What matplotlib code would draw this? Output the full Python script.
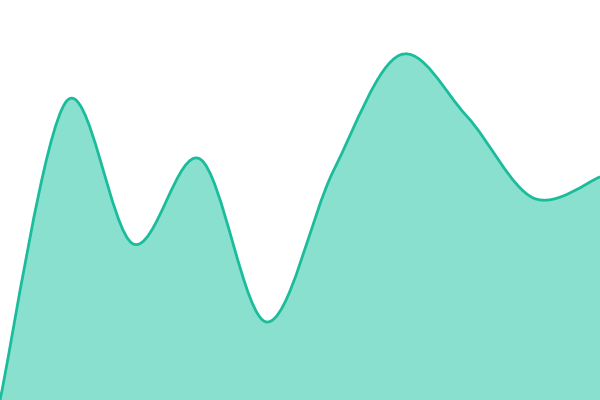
import matplotlib
matplotlib.use("Agg")
import matplotlib.pyplot as plt
from matplotlib.path import Path
from matplotlib.patches import PathPatch
import numpy as np

# values (0 = bottom edge, 400 = top edge)
x_vals = [0, 1, 2, 3, 4, 5, 6, 7, 8, 9]
y_vals = [0, 299, 156, 241, 78, 229, 345, 284, 202, 223]

LINE_COLOR = "#1abc9c"
FILL_COLOR = "#8ae0cf"


def catmull_rom_path(xs, ys):
    # smooth curve through every point, built from cubic bezier segments
    pts = np.column_stack([xs, ys]).astype(float)
    padded = np.vstack([pts[0], pts, pts[-1]])
    verts = [tuple(pts[0])]
    codes = [Path.MOVETO]
    for i in range(1, len(padded) - 2):
        p0, p1, p2, p3 = padded[i - 1], padded[i], padded[i + 1], padded[i + 2]
        c1 = p1 + (p2 - p0) / 6
        c2 = p2 - (p3 - p1) / 6
        verts += [tuple(c1), tuple(c2), tuple(p2)]
        codes += [Path.CURVE4] * 3
    return verts, codes


fig = plt.figure(figsize=(6, 4), dpi=100)
ax = fig.add_axes([0, 0, 1, 1])
ax.set_xlim(x_vals[0], x_vals[-1])
ax.set_ylim(0, 400)
ax.axis("off")

verts, codes = catmull_rom_path(x_vals, y_vals)

# filled area under the curve
fill_verts = verts + [(x_vals[-1], 0), (x_vals[0], 0), verts[0]]
fill_codes = codes + [Path.LINETO, Path.LINETO, Path.CLOSEPOLY]
ax.add_patch(PathPatch(Path(fill_verts, fill_codes), facecolor=FILL_COLOR,
                       edgecolor="none"))

# outline
ax.add_patch(PathPatch(Path(verts, codes), facecolor="none",
                       edgecolor=LINE_COLOR, linewidth=2.0, capstyle="round",
                       joinstyle="round"))

fig.savefig("out.png", dpi=100)
